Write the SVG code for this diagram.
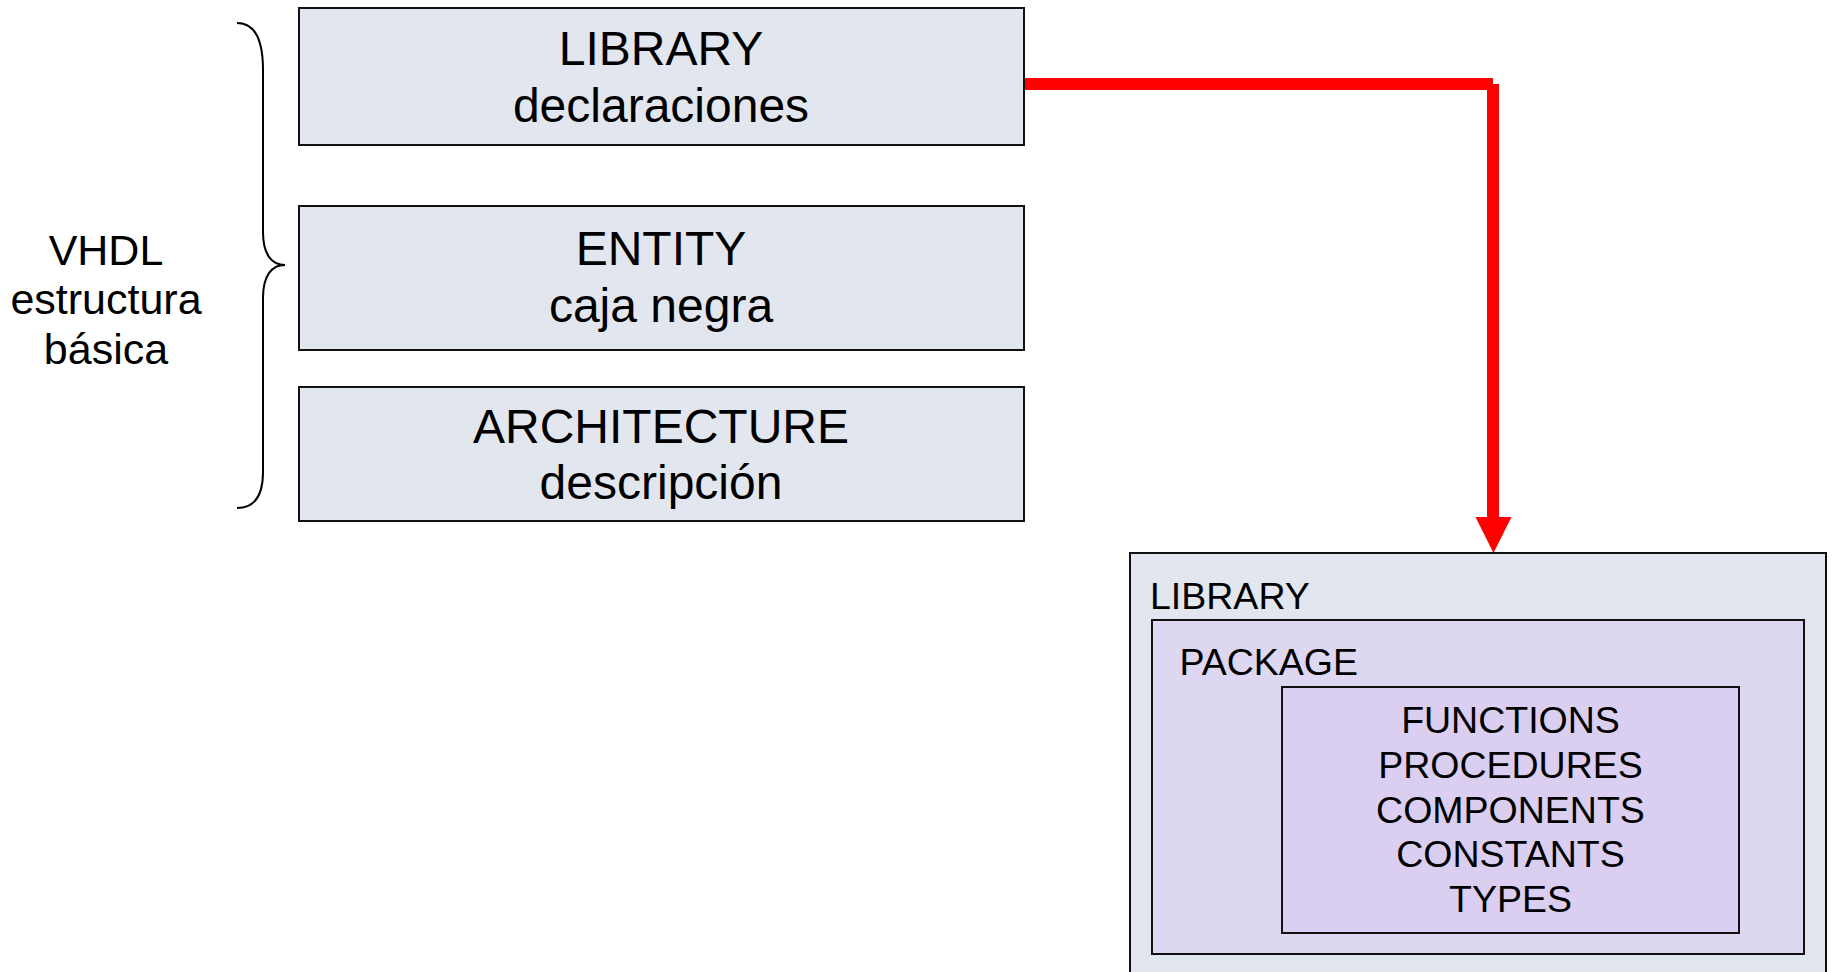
<svg xmlns="http://www.w3.org/2000/svg" width="1832" height="972" viewBox="0 0 1832 972">
<style>
text{font-family:"Liberation Sans",Arial,sans-serif;fill:#000}
.box{fill:#E2E6EE;stroke:#111;stroke-width:2}
.pkg{fill:#DED7F1;stroke:#111;stroke-width:2}
.inner{fill:#DACEF1;stroke:#111;stroke-width:2}
.big{font-size:48px;text-anchor:middle}
.side{font-size:43px;text-anchor:middle}
.lbl{font-size:37.5px}
.items{font-size:37.5px;text-anchor:middle}
.wire{fill:none;stroke:#FF0000;stroke-width:12;stroke-linecap:butt}
.head{fill:#FF0000}
.brace{fill:none;stroke:#000;stroke-width:2}
</style>
<g id="vhdl-label">
<text class="side" x="106" y="265">VHDL</text>
<text class="side" x="106" y="314">estructura</text>
<text class="side" x="106" y="364">básica</text>
<path class="brace" d="M237,23 C255,23 263,40 263,70 L263,232 C263,255 272,265 285,265 C272,265 263,275 263,298 L263,472 C263,495 255,508 237,508"/>
</g>
<g id="library">
<rect class="box" x="299" y="8" width="725" height="137"/>
<text class="big" x="661" y="65">LIBRARY</text>
<text class="big" x="661" y="122">declaraciones</text>
</g>
<g id="entity">
<rect class="box" x="299" y="206" width="725" height="144"/>
<text class="big" x="661" y="265">ENTITY</text>
<text class="big" x="661" y="322">caja negra</text>
</g>
<g id="architecture">
<rect class="box" x="299" y="387" width="725" height="134"/>
<text class="big" x="661" y="442.5">ARCHITECTURE</text>
<text class="big" x="661" y="498.5">descripción</text>
</g>
<g id="library-detail">
<rect class="box" x="1130" y="553" width="696" height="440"/>
<text class="lbl" x="1150" y="609">LIBRARY</text>
</g>
<g id="package">
<rect class="pkg" x="1152" y="620" width="652" height="334"/>
<text class="lbl" x="1179.5" y="675">PACKAGE</text>
</g>
<g id="package-contents">
<rect class="inner" x="1282" y="687" width="457" height="246"/>
<text class="items" x="1510.5" y="733">FUNCTIONS</text>
<text class="items" x="1510.5" y="778">PROCEDURES</text>
<text class="items" x="1510.5" y="823">COMPONENTS</text>
<text class="items" x="1510.5" y="867">CONSTANTS</text>
<text class="items" x="1510.5" y="912">TYPES</text>
</g>
<g id="connectors">
<path class="wire" d="M1025,84 H1493"/>
<path class="wire" d="M1493,84 V518"/>
<polygon class="head" points="1475.5,517 1511.5,517 1493.5,553"/>
</g>
</svg>
